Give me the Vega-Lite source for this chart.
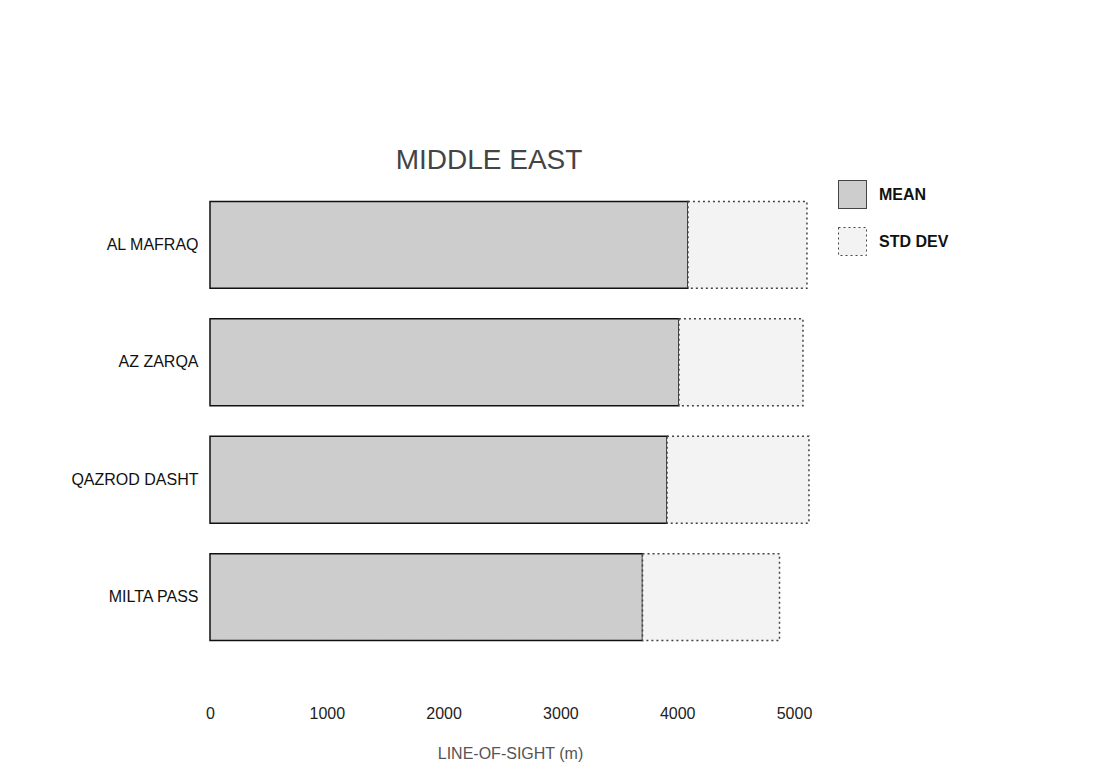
{
  "$schema": "https://vega.github.io/schema/vega-lite/v6.json",
  "autosize": {"type": "none"},
  "padding": {"left": 210, "top": 178, "right": 304, "bottom": 100},
  "width": 600,
  "height": 486,
  "background": "white",
  "title": {
    "text": "MIDDLE EAST",
    "fontSize": 28,
    "font": "Liberation Sans",
    "fontWeight": "normal",
    "color": "#444444",
    "anchor": "middle",
    "dx": -21,
    "offset": 3
  },
  "data": {
    "values": [
      {"site": "AL MAFRAQ", "series": "MEAN", "value": 4092},
      {"site": "AL MAFRAQ", "series": "STD DEV", "value": 1019},
      {"site": "AZ ZARQA", "series": "MEAN", "value": 4015},
      {"site": "AZ ZARQA", "series": "STD DEV", "value": 1062},
      {"site": "QAZROD DASHT", "series": "MEAN", "value": 3913},
      {"site": "QAZROD DASHT", "series": "STD DEV", "value": 1215},
      {"site": "MILTA PASS", "series": "MEAN", "value": 3703},
      {"site": "MILTA PASS", "series": "STD DEV", "value": 1173}
    ]
  },
  "mark": {"type": "bar", "strokeWidth": 1.5},
  "encoding": {
    "y": {
      "field": "site",
      "type": "nominal",
      "sort": ["AL MAFRAQ", "AZ ZARQA", "QAZROD DASHT", "MILTA PASS"],
      "scale": {"paddingInner": 0.26, "paddingOuter": 0.2},
      "axis": {
        "title": null,
        "domain": false,
        "ticks": false,
        "labelPadding": 12,
        "labelFontSize": 16,
        "labelFont": "Liberation Sans",
        "labelColor": "#111111"
      }
    },
    "x": {
      "field": "value",
      "type": "quantitative",
      "stack": "zero",
      "scale": {"domain": [0, 5137], "nice": false},
      "axis": {
        "values": [0, 1000, 2000, 3000, 4000, 5000],
        "format": "d",
        "grid": false,
        "domain": false,
        "ticks": false,
        "labelPadding": 41,
        "labelFontSize": 16,
        "labelFont": "Liberation Sans",
        "labelColor": "#222222",
        "labelFlush": false,
        "title": "LINE-OF-SIGHT (m)",
        "titleFont": "Liberation Sans",
        "titleFontSize": 16,
        "titleFontWeight": "normal",
        "titleColor": "#555555",
        "titlePadding": 24,
        "titleX": 300
      }
    },
    "fill": {
      "field": "series",
      "type": "nominal",
      "scale": {"domain": ["MEAN", "STD DEV"], "range": ["#cdcdcd", "#f3f3f3"]},
      "legend": {
        "title": null,
        "orient": "none",
        "legendX": 628,
        "legendY": 2,
        "symbolType": "square",
        "symbolSize": 784,
        "symbolStrokeColor": "#666666",
        "symbolStrokeWidth": 1,
        "labelFontSize": 16,
        "labelFontWeight": "bold",
        "labelFont": "Liberation Sans",
        "labelColor": "#111111",
        "labelOffset": 12,
        "rowPadding": 14
      }
    },
    "stroke": {
      "field": "series",
      "type": "nominal",
      "scale": {"domain": ["MEAN", "STD DEV"], "range": ["#111111", "#444444"]},
      "legend": null
    },
    "strokeDash": {
      "field": "series",
      "type": "nominal",
      "scale": {"domain": ["MEAN", "STD DEV"], "range": [[1, 0], [2, 3]]},
      "legend": null
    },
    "order": {"field": "series", "sort": "ascending"}
  },
  "config": {"view": {"stroke": null}}
}
